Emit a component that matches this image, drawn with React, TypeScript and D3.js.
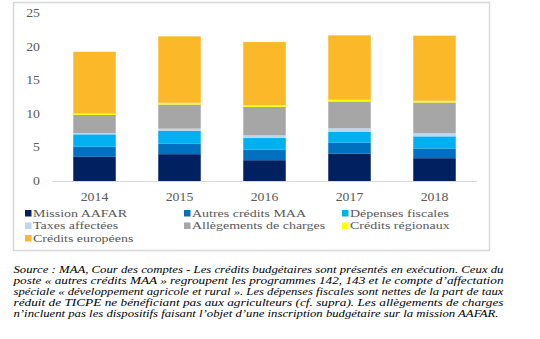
import React from "react";
import * as d3 from "d3";

const years = ["2014", "2015", "2016", "2017", "2018"];
const seriesNames = [
  "Mission AAFAR",
  "Autres crédits MAA",
  "Dépenses fiscales",
  "Taxes affectées",
  "Allègements de charges",
  "Crédits régionaux",
  "Crédits européens",
];
const missionAAFAR = [3.6, 4.0, 3.1, 4.1, 3.4];
const autresMAA = [1.5, 1.55, 1.55, 1.6, 1.45];
const depensesFiscales = [1.85, 1.9, 1.75, 1.65, 1.8];
const taxesAffectees = [0.2, 0.35, 0.4, 0.5, 0.5];
const allegements = [2.7, 3.6, 4.25, 4.0, 4.55];
const creditsRegionaux = [0.2, 0.25, 0.25, 0.25, 0.25];
const creditsEuropeens = [9.2, 9.9, 9.4, 9.6, 9.7];
const yTicks = [0, 5, 10, 15, 20, 25];
const colors = ["#002060", "#0070C0", "#00B0F0", "#BDD7EE", "#A6A6A6", "#FFFF00", "#FBB829"];

const captionLines = [
  "Source : MAA, Cour des comptes - Les crédits budgétaires sont présentés en exécution. Ceux du",
  "poste « autres crédits MAA » regroupent les programmes 142, 143 et le compte d’affectation",
  "spéciale « développement agricole et rural ». Les dépenses fiscales sont nettes de la part de taux",
  "réduit de TICPE ne bénéficiant pas aux agriculteurs (cf. supra). Les allègements de charges",
  "n’incluent pas les dispositifs faisant l’objet d’une inscription budgétaire sur la mission AAFAR.",
];

export default function App() {
  const allSeries = [missionAAFAR, autresMAA, depensesFiscales, taxesAffectees, allegements, creditsRegionaux, creditsEuropeens];
  const table = years.map((y, i) => {
    const row: any = { year: y };
    seriesNames.forEach((s, k) => (row[s] = allSeries[k][i]));
    return row;
  });
  const stacked = d3.stack().keys(seriesNames)(table);
  const x = d3.scaleBand().domain(years).range([52, 477]).paddingInner(0.5).paddingOuter(0.25);
  const y = d3.scaleLinear().domain([0, 25]).range([181, 13.2]);
  const fontStyle = { fontFamily: "Liberation Serif, DejaVu Serif, serif" };
  const sx = 1.2;

  const legendCols = [25, 184, 342];
  const legendRows = [216.5, 229, 241.5];

  return (
    <svg width={540} height={339} style={{ position: "absolute", left: 0, top: 0, background: "#fff" }}>
      <rect x={13.5} y={2.5} width={476} height={248} fill="#fff" stroke="#d9d9d9" strokeWidth={1.5} />
      <line x1={52} x2={477} y1={y(0) + 0.5} y2={y(0) + 0.5} stroke="#d9d9d9" strokeWidth={1} />
      {yTicks.map((t) => (
        <text key={t} style={fontStyle} transform={`translate(40,${y(t) + 4}) scale(${sx},1)`} textAnchor="end" fontSize={11.5} fill="#595959">
          {t}
        </text>
      ))}
      {stacked.map((layer, k) => (
        <g key={k} fill={colors[k]}>
          {layer.map((d, i) => (
            <rect key={i} x={x(years[i])} width={x.bandwidth()} y={y(d[1])} height={Math.max(0, y(d[0]) - y(d[1]))} />
          ))}
        </g>
      ))}
      {years.map((yr) => (
        <text key={yr} style={fontStyle} transform={`translate(${(x(yr) as number) + x.bandwidth() / 2},200.5) scale(${sx},1)`} textAnchor="middle" fontSize={11.5} fill="#595959">
          {yr}
        </text>
      ))}
      {seriesNames.map((s, k) => {
        const col = k % 3;
        const row = Math.floor(k / 3);
        const lx = legendCols[col];
        const ly = legendRows[row];
        return (
          <g key={s}>
            <rect x={lx} y={ly - 6.5} width={6.5} height={6.5} fill={colors[k]} />
            <text style={fontStyle} transform={`translate(${lx + 8},${ly}) scale(1.27,1)`} fontSize={11} fill="#595959">
              {s}
            </text>
          </g>
        );
      })}
      {captionLines.map((l, i) => (
        <text
          key={i}
          x={13.5}
          y={272.5 + i * 11}
          style={fontStyle}
          fontStyle="italic"
          fontSize={10.5}
          fill="#000"
          textLength={i < 4 ? 490 : 485}
          lengthAdjust="spacingAndGlyphs"
        >
          {l}
        </text>
      ))}
    </svg>
  );
}
